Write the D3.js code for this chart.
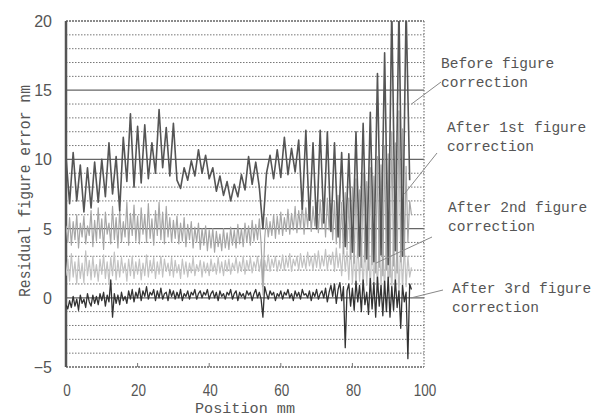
<!DOCTYPE html>
<html><head><meta charset="utf-8">
<script src="https://cdn.jsdelivr.net/npm/d3@7"></script>
<style>body{margin:0;background:#fff}svg{display:block}</style>
</head><body><div id="chart"></div>
<script>
// ---- data ----
const xTicks = [0, 20, 40, 60, 80, 100];
const yTicks = [-5, 0, 5, 10, 15, 20];
const seriesNames = ["Before figure correction", "After 1st figure correction", "After 2nd figure correction", "After 3rd figure correction"];
const beforeStep = 1;   // mm between samples
const afterStep = 0.5;  // mm between samples
const beforeValues = [
 10.2, 6.8, 10.5, 7.0, 9.6, 6.2, 9.4, 6.5, 9.8, 6.9,
 10.0, 7.3, 11.2, 7.5, 10.2, 6.3, 11.6, 8.4, 13.3, 8.0,
 12.4, 8.3, 12.5, 8.6, 11.2, 9.0, 13.6, 9.4, 12.3, 8.8,
 12.6, 8.5, 7.9, 9.4, 8.5, 9.9, 8.8, 10.7, 9.0, 10.3,
 8.6, 9.4, 7.7, 8.8, 7.4, 8.4, 7.0, 8.2, 7.3, 8.9,
 7.8, 10.2, 8.2, 9.8, 8.0, 5.0, 9.0, 10.3, 8.6, 10.7,
 8.7, 11.6, 8.9, 10.8, 9.1, 11.4, 6.4, 12.1, 5.6, 11.2,
 5.0, 12.1, 5.4, 12.0, 4.8, 11.2, 4.4, 10.5, 3.7, 10.4,
 3.3, 12.0, 3.0, 12.6, 2.8, 13.4, 2.6, 16.2, 3.1, 17.7,
 2.4, 21.0, 3.4, 21.0, 3.0, 21.0, 8.5
];
const after1Values = [
 5.2, 4.0, 5.8, 3.8, 5.5, 4.2, 6.0, 3.6, 5.4, 4.4,
 5.9, 3.9, 5.2, 4.5, 6.3, 3.7, 5.6, 4.1, 6.5, 4.3,
 5.7, 3.5, 6.2, 4.6, 5.4, 3.9, 6.6, 4.2, 5.8, 3.6,
 6.4, 4.0, 5.5, 4.4, 6.9, 3.8, 6.1, 4.5, 6.7, 4.1,
 5.9, 3.9, 6.5, 4.6, 6.0, 4.0, 6.8, 4.3, 5.7, 3.8,
 6.3, 4.5, 6.9, 4.2, 6.2, 3.9, 6.6, 4.4, 5.8, 4.0,
 5.6, 4.3, 5.9, 3.9, 5.4, 4.1, 5.8, 3.7, 5.3, 4.2,
 5.5, 3.6, 5.1, 4.0, 5.4, 3.5, 5.0, 3.8, 5.2, 3.4,
 4.9, 3.6, 5.0, 3.3, 4.8, 3.7, 4.6, 3.4, 5.0, 3.6,
 4.7, 3.5, 5.1, 3.8, 4.9, 3.6, 5.3, 3.9, 5.0, 3.7,
 5.4, 4.0, 5.2, 3.8, 5.6, 4.1, 5.3, 4.2, 5.7, 3.9,
 0.8, 4.3, 5.8, 4.4, 5.5, 4.5, 6.0, 4.3, 5.9, 4.6,
 6.2, 4.5, 5.8, 4.8, 6.4, 4.6, 6.1, 4.9, 6.6, 4.7,
 6.3, 5.0, 6.8, 4.6, 6.5, 5.1, 7.0, 4.8, 6.6, 5.2,
 6.9, 4.7, 7.1, 5.0, 6.7, 4.4, 7.2, 4.9, 6.8, 4.2,
 7.0, 3.9, 7.4, 3.6, 6.9, 3.2, 7.6, 3.5, 7.2, 2.8,
 8.0, 2.5, 8.6, 2.9, 7.8, 2.2, 9.0, 2.6, 8.4, 2.0,
 9.4, 2.4, 8.8, 1.8, 10.2, 2.2, 9.6, 1.6, 11.0, 2.0,
 10.4, 1.5, 12.0, 2.3, 11.2, 1.8, 13.5, 2.6, 12.2, 3.0,
 9.5, 4.0, 7.0, 6.0
];
const after2Values = [
 1.6, 2.8, 1.2, 3.2, 1.5, 2.6, 1.0, 2.9, 1.4, 2.5,
 1.1, 3.4, 1.6, 2.7, 1.3, 3.0, 1.5, 2.4, 1.2, 2.8,
 1.7, 3.1, 1.4, 2.6, 1.1, 2.9, 1.6, 3.3, 1.3, 2.7,
 1.5, 2.9, 1.8, 2.5, 1.2, 2.8, 1.6, 3.0, 1.4, 2.6,
 1.7, 2.8, 1.3, 2.5, 1.6, 3.1, 1.5, 2.7, 1.8, 2.9,
 1.4, 2.6, 1.7, 3.0, 1.5, 2.8, 1.9, 2.5, 1.6, 2.9,
 1.5, 2.7, 1.8, 2.4, 1.4, 2.8, 1.7, 2.6, 1.5, 2.5,
 1.8, 2.9, 1.6, 2.4, 1.9, 2.7, 1.5, 2.6, 1.8, 2.5,
 1.6, 2.8, 1.9, 2.5, 1.7, 2.9, 1.8, 2.6, 1.6, 2.7,
 1.9, 2.8, 1.7, 2.5, 2.0, 2.9, 1.8, 2.6, 1.9, 3.0,
 1.7, 2.7, 2.0, 2.9, 1.8, 2.6, 2.1, 3.0, 1.9, 2.8,
 0.2, 2.7, 2.0, 3.1, 1.9, 2.8, 2.2, 3.0, 1.9, 2.7,
 2.1, 3.1, 2.0, 2.9, 2.2, 3.2, 1.9, 2.8, 2.3, 3.0,
 2.0, 3.2, 2.2, 2.9, 2.1, 3.3, 2.3, 3.0, 2.0, 3.2,
 2.2, 3.4, 2.1, 3.0, 2.3, 3.5, 2.0, 3.1, 2.4, 3.3,
 1.9, 3.6, 2.2, 3.2, 1.6, 3.8, 1.9, 3.4, 1.3, 3.9,
 1.0, 3.6, 0.8, 4.1, 1.2, 3.8, 0.6, 4.3, 0.9, 3.7,
 0.5, 4.4, 0.8, 4.0, 0.4, 4.6, 0.7, 3.9, 0.3, 4.5,
 0.6, 4.2, 0.2, 4.8, 0.5, 4.3, 0.1, 4.0, 0.6, 3.8,
 0.8, 3.0, 1.5, 2.2
];
const after3Values = [
 -0.5, -0.8, -0.2, -0.7, 0.1, -0.6, -0.1, -0.9, 0.2, -0.4,
 -0.1, -0.7, 0.3, -0.3, -0.6, 0.2, -0.4, 0.1, -0.5, 0.3,
 -0.2, 0.4, -0.6, 0.2, -0.3, 1.3, -1.4, 0.3, -0.4, 0.2,
 -0.5, 0.4, -0.2, 0.1, -0.4, 0.5, -0.1, 0.6, -0.3, 0.4,
 0.0, 0.7, -0.2, 0.5, 0.1, 0.8, -0.1, 0.4, 0.2, 0.6,
 -0.2, 0.5, 0.0, 0.7, -0.1, 0.3, 0.4, -0.2, 0.6, 0.1,
 0.5, -0.1, 0.4, 0.0, 0.6, -0.2, 0.3, 0.1, 0.5, -0.1,
 0.4, 0.2, 0.6, -0.1, 0.3, 0.5, 0.0, 0.4, 0.2, 0.6,
 -0.1, 0.3, 0.5, 0.0, 0.4, -0.2, 0.5, 0.1, 0.3, -0.1,
 0.4, 0.2, 0.6, -0.1, 0.3, 0.5, -0.2, 0.4, 0.1, 0.3,
 -0.1, 0.5, 0.2, 0.4, -0.2, 0.3, 0.6, 0.0, 0.4, -0.1,
 -1.4, 0.8, 0.3, -0.1, 0.5, 0.2, 0.4, -0.2, 0.3, 0.1,
 0.5, -0.1, 0.4, 0.2, 0.6, 0.0, 0.3, -0.2, 0.5, 0.1,
 0.4, -0.1, 0.6, 0.2, 0.3, 0.0, 0.5, -0.2, 0.4, 0.1,
 0.6, -0.1, 0.3, 0.5, 0.0, 0.7, -0.3, 0.4, 0.9, 0.1,
 1.0, -0.4, 0.6, 1.1, -0.2, 0.8, -3.6, 0.5, 1.0, -0.6,
 0.7, -0.9, 1.2, -0.3, 0.9, -1.0, 1.3, -0.5, 0.4, -1.2,
 1.4, -0.8, 1.1, -1.4, 1.5, -0.6, 0.9, -1.3, 1.2, -1.0,
 1.5, -1.4, 0.8, -0.9, 1.3, -0.7, 0.5, -2.2, 0.9, -0.3,
 0.4, -4.4, 1.0, 0.6
];
// where each leader line touches the data (x mm, y nm)
const leaderTargets = [[96.5, 14.0], [94.5, 7.5], [86.5, 2.5], [96.5, 0.0]];

// ---- layout ----
const W = 602, H = 419;
const x = d3.scaleLinear().domain([0, 100]).range([66, 424]);
const y = d3.scaleLinear().domain([-5, 20]).range([367, 21]);

const svg = d3.select("#chart").append("svg").attr("width", W).attr("height", H);

// grid
const gridVals = d3.range(-4, 20);
svg.append("g").selectAll("line").data(gridVals).join("line")
  .attr("x1", x(0)).attr("x2", x(100))
  .attr("y1", d => y(d)).attr("y2", d => y(d))
  .attr("stroke", d => d % 5 === 0 ? "#666" : "#777")
  .attr("stroke-width", d => d % 5 === 0 ? 1.2 : 1)
  .attr("stroke-dasharray", d => d % 5 === 0 ? null : "1.5,1.5");

// frame
svg.append("line").attr("x1", x(0)).attr("x2", x(100)).attr("y1", y(20)).attr("y2", y(20))
  .attr("stroke", "#666").attr("stroke-width", 1.5).attr("stroke-dasharray", "2,1");
svg.append("line").attr("x1", x(0)).attr("x2", x(100)).attr("y1", y(-5)).attr("y2", y(-5))
  .attr("stroke", "#666").attr("stroke-width", 1.5).attr("stroke-dasharray", "2,1");
svg.append("line").attr("x1", x(100)).attr("x2", x(100)).attr("y1", y(20)).attr("y2", y(-5))
  .attr("stroke", "#777").attr("stroke-width", 1.2).attr("stroke-dasharray", "1.5,1.5");
svg.append("line").attr("x1", x(0)).attr("x2", x(0)).attr("y1", y(20)).attr("y2", y(-5))
  .attr("stroke", "#555").attr("stroke-width", 2.5);

// minor ticks on bottom
svg.append("g").selectAll("line").data(xTicks.slice(1, -1)).join("line")
  .attr("x1", d => x(d)).attr("x2", d => x(d))
  .attr("y1", y(-5)).attr("y2", y(-5) - 4)
  .attr("stroke", "#777").attr("stroke-width", 1);

// clip
svg.append("clipPath").attr("id", "clip").append("rect")
  .attr("x", x(0)).attr("y", y(20)).attr("width", x(100) - x(0)).attr("height", y(-5) - y(20));

const toPts = (vals, step) => vals.map((v, i) => [i * step, v]);
const line = d3.line().x(d => x(d[0])).y(d => y(d[1]));
const plot = svg.append("g").attr("clip-path", "url(#clip)");

const seriesDraw = [
  { vals: after2Values, step: afterStep, color: "#c2c2c2", w: 1.2 },
  { vals: after1Values, step: afterStep, color: "#a6a6a6", w: 1.2 },
  { vals: beforeValues, step: beforeStep, color: "#555", w: 1.6 },
  { vals: after3Values, step: afterStep, color: "#333", w: 1.3 }
];
seriesDraw.forEach(s => {
  plot.append("path").datum(toPts(s.vals, s.step))
    .attr("fill", "none").attr("stroke", s.color).attr("stroke-width", s.w)
    .attr("stroke-linejoin", "round").attr("d", line);
});

// tick labels
const tickFont = "'Liberation Sans', Arial, sans-serif";
svg.append("g").selectAll("text").data(xTicks).join("text")
  .attr("x", d => x(d) + 1).attr("y", 396)
  .attr("text-anchor", "middle").attr("font-family", tickFont).attr("font-size", 16)
  .attr("fill", "#555").attr("textLength", d => String(d).length * 7.5)
  .attr("lengthAdjust", "spacingAndGlyphs").text(d => d);
svg.append("g").selectAll("text").data(yTicks).join("text")
  .attr("x", 52).attr("y", d => y(d) + 6)
  .attr("text-anchor", "end").attr("font-family", tickFont).attr("font-size", 16)
  .attr("fill", "#555").text(d => d < 0 ? "\u2212" + Math.abs(d) : d);

// axis titles
const monoFont = "'Liberation Mono', 'DejaVu Sans Mono', monospace";
svg.append("text").attr("x", 195).attr("y", 413)
  .attr("font-family", monoFont).attr("font-size", 15).attr("fill", "#555")
  .attr("textLength", 100).attr("lengthAdjust", "spacingAndGlyphs").text("Position mm");
svg.append("text").attr("transform", "translate(30,297) rotate(-90)")
  .attr("font-family", monoFont).attr("font-size", 16).attr("fill", "#555")
  .attr("textLength", 212).attr("lengthAdjust", "spacingAndGlyphs").text("Residual figure error nm");

// annotations
const labelLines = [
  ["Before figure", "correction"],
  ["After 1st figure", "correction"],
  ["After 2nd figure", "correction"],
  ["After 3rd figure", "correction"]
];
const labelPos = [[441, 68], [447, 132], [448, 212], [452, 293]];
const leaderStart = [[441, 82], [437, 153], [432, 237], [443, 290]];
labelLines.forEach((ls, i) => {
  const t = svg.append("text").attr("font-family", monoFont).attr("font-size", 15.5).attr("fill", "#555");
  ls.forEach((s, j) => {
    t.append("tspan").attr("x", labelPos[i][0]).attr("y", labelPos[i][1] + j * 18.5)
      .attr("textLength", s.length * 8.7).attr("lengthAdjust", "spacingAndGlyphs").text(s);
  });
  svg.append("line")
    .attr("x1", leaderStart[i][0]).attr("y1", leaderStart[i][1])
    .attr("x2", x(leaderTargets[i][0])).attr("y2", y(leaderTargets[i][1]))
    .attr("stroke", "#888").attr("stroke-width", 1);
});
</script>
</body></html>
